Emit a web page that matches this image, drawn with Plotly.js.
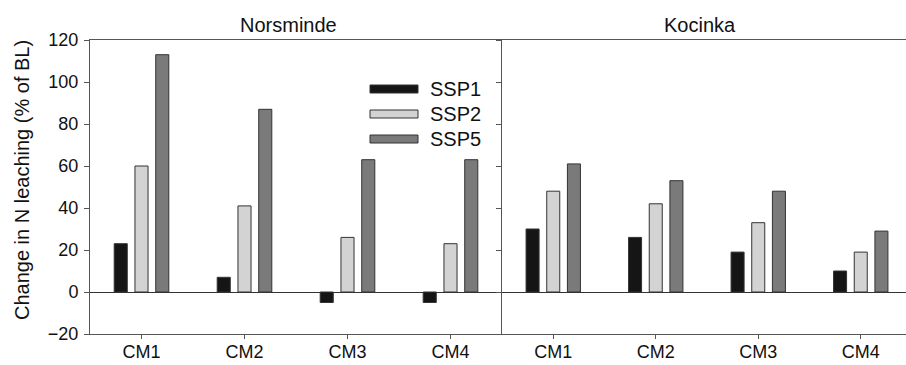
<!DOCTYPE html>
<html>
<head>
<meta charset="utf-8">
<script src="https://cdn.plot.ly/plotly-3.0.1.min.js"></script>
<style>html,body{margin:0;padding:0;background:#fff;}#chart{width:906px;height:365px;}</style>
</head>
<body>
<div id="chart"></div>
<script>
// ---- data ----
var categories = ['CM1', 'CM2', 'CM3', 'CM4'];
var seriesNames = ['SSP1', 'SSP2', 'SSP5'];
var panelTitles = ['Norsminde', 'Kocinka'];
var norsmindeSSP1 = [23, 7, -5, -5];
var norsmindeSSP2 = [60, 41, 26, 23];
var norsmindeSSP5 = [113, 87, 63, 63];
var kocinkaSSP1 = [30, 26, 19, 10];
var kocinkaSSP2 = [48, 42, 33, 19];
var kocinkaSSP5 = [61, 53, 48, 29];
var yTickVals = [-20, 0, 20, 40, 60, 80, 100, 120];
var yTitle = 'Change in N leaching (% of BL)';

// ---- styles ----
var fills = ['#151515', '#d3d3d3', '#7a7a7a'];
var outline = '#333333';
var FONT = '"Liberation Sans", Arial, sans-serif';
var lineCol = '#555555';

var panels = [
  {data: [norsmindeSSP1, norsmindeSSP2, norsmindeSSP5], x: 'x', y: 'y'},
  {data: [kocinkaSSP1, kocinkaSSP2, kocinkaSSP5], x: 'x2', y: 'y2'}
];
var traces = [];
panels.forEach(function(p) {
  p.data.forEach(function(vals, i) {
    traces.push({
      type: 'bar', x: categories, y: vals, name: seriesNames[i],
      xaxis: p.x, yaxis: p.y, showlegend: false,
      marker: {color: fills[i], line: {color: outline, width: 1}}
    });
  });
});

// plot area in pixels: x 90..906, y 40..334
var L = 90, R = 906, T = 40, B = 334;
function px(v) { return (v - L) / (R - L); }
function py(v) { return (B - v) / (B - T); }
var split = px(502);

var shapes = [];
var annotations = [];
var swTop = [85, 110, 135];
seriesNames.forEach(function(n, i) {
  shapes.push({type: 'rect', xref: 'paper', yref: 'paper',
    x0: px(370), x1: px(418), y0: py(swTop[i] + 8), y1: py(swTop[i]),
    fillcolor: fills[i], line: {color: outline, width: 1}});
  annotations.push({xref: 'paper', yref: 'paper', x: px(428), y: py(swTop[i] + 4),
    xanchor: 'left', yanchor: 'middle', text: n, showarrow: false,
    font: {family: FONT, size: 20, color: '#111'}});
});
annotations.push({xref: 'paper', yref: 'paper', x: px(288), y: py(24.5), xanchor: 'center', yanchor: 'middle',
  text: panelTitles[0], showarrow: false, font: {family: FONT, size: 20, color: '#111'}});
annotations.push({xref: 'paper', yref: 'paper', x: px(700), y: py(24.5), xanchor: 'center', yanchor: 'middle',
  text: panelTitles[1], showarrow: false, font: {family: FONT, size: 20, color: '#111'}});
annotations.push({xref: 'paper', yref: 'paper', x: px(22), y: py(180), xanchor: 'center', yanchor: 'middle',
  textangle: -90, text: yTitle, showarrow: false, font: {family: FONT, size: 20, color: '#111'}});

var xCommon = {
  type: 'category', showline: true, linecolor: lineCol, linewidth: 1, mirror: true,
  ticks: 'outside', ticklen: 4, tickcolor: lineCol, showgrid: false, zeroline: false,
  tickfont: {family: FONT, size: 18, color: '#111'}, ticklabelstandoff: -3, fixedrange: true
};
var yCommon = {
  range: [-20, 120], tickvals: yTickVals, showline: true, linecolor: lineCol, linewidth: 1,
  ticks: 'outside', ticklen: 5, tickcolor: lineCol, showgrid: false,
  zeroline: true, zerolinecolor: '#333', zerolinewidth: 1, fixedrange: true
};

var layout = {
  width: 906, height: 365,
  margin: {l: L, r: 0, t: T, b: 365 - B, pad: 0},
  paper_bgcolor: '#fff', plot_bgcolor: '#fff',
  barmode: 'group', bargap: 0.395, bargroupgap: 0.37,
  font: {family: FONT, color: '#111'},
  xaxis: Object.assign({}, xCommon, {domain: [0, split], range: [-0.5, 3.5], anchor: 'y'}),
  xaxis2: Object.assign({}, xCommon, {domain: [split, 1], range: [-0.5, 3.5 - 6 / 102.5], anchor: 'y2'}),
  yaxis: Object.assign({}, yCommon, {anchor: 'x', tickfont: {family: FONT, size: 18, color: '#111'}, ticklabelstandoff: 2}),
  yaxis2: Object.assign({}, yCommon, {anchor: 'x2', matches: 'y', showticklabels: false}),
  shapes: shapes,
  annotations: annotations
};

Plotly.newPlot('chart', traces, layout, {displayModeBar: false, staticPlot: true});
</script>
</body>
</html>
